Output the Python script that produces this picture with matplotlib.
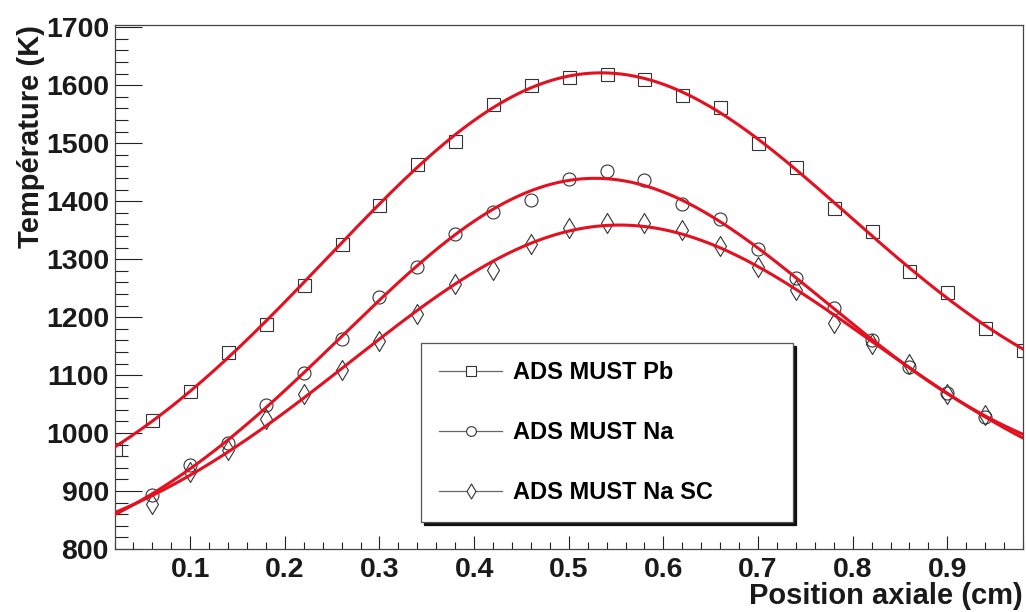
import numpy as np
import matplotlib
matplotlib.use("Agg")
import matplotlib.pyplot as plt
from matplotlib.lines import Line2D
from matplotlib.path import Path
from matplotlib.ticker import MultipleLocator

# ---------------------------------------------------------------------------
# data

x_pb = [0.02, 0.06, 0.10, 0.14, 0.18, 0.22, 0.26, 0.30, 0.34, 0.38, 0.42, 0.46, 0.50,
        0.54, 0.58, 0.62, 0.66, 0.70, 0.74, 0.78, 0.82, 0.86, 0.90, 0.94, 0.98]
t_pb = [972, 1023, 1072, 1140, 1189, 1256, 1326, 1394, 1464, 1504, 1568, 1601, 1615,
        1620, 1610, 1584, 1562, 1501, 1459, 1388, 1348, 1280, 1244, 1181, 1143]

x_na = [0.06, 0.10, 0.14, 0.18, 0.22, 0.26, 0.30, 0.34, 0.38, 0.42, 0.46, 0.50,
        0.54, 0.58, 0.62, 0.66, 0.70, 0.74, 0.78, 0.82, 0.86, 0.90, 0.94]
t_na = [894, 945, 983, 1048, 1104, 1162, 1235, 1286, 1344, 1381, 1402, 1438,
        1452, 1436, 1395, 1369, 1317, 1267, 1215, 1160, 1114, 1069, 1028]
t_nasc = [878, 933, 971, 1025, 1068, 1108, 1158, 1206, 1258, 1282, 1326, 1354,
          1362, 1362, 1351, 1322, 1286, 1246, 1190, 1154, 1120, 1068, 1031]

labels = ["ADS MUST Pb", "ADS MUST Na", "ADS MUST Na SC"]

X_RANGE = (0.02, 0.98)
Y_RANGE = (800, 1704)

# ---------------------------------------------------------------------------

FONT = "Liberation Sans"
RED = "#e5101f"
MK = "#333333"

# tall narrow open diamond (ROOT style)
DIAMOND = Path([(0, 1), (0.6, 0), (0, -1), (-0.6, 0), (0, 1)],
               [Path.MOVETO, Path.LINETO, Path.LINETO, Path.LINETO, Path.CLOSEPOLY])


def gaus_pol1_fit(x, y):
    """Least-squares fit of gaus + pol1, drawn over the whole axis range."""
    x = np.asarray(x, float)
    y = np.asarray(y, float)
    best = None
    for mu in np.linspace(0.30, 0.80, 101):
        for s in np.linspace(0.10, 0.80, 141):
            M = np.column_stack([np.ones_like(x), x, np.exp(-0.5 * ((x - mu) / s) ** 2)])
            coef, *_ = np.linalg.lstsq(M, y, rcond=None)
            r = np.sum((M @ coef - y) ** 2)
            if best is None or r < best[0]:
                best = (r, mu, s, coef)
    _, mu, s, (c0, c1, a) = best
    xx = np.linspace(X_RANGE[0], X_RANGE[1], 300)
    return xx, c0 + c1 * xx + a * np.exp(-0.5 * ((xx - mu) / s) ** 2)


plt.rcParams["font.family"] = [FONT, "DejaVu Sans"]
plt.rcParams["font.weight"] = "bold"

fig = plt.figure(figsize=(10.26, 6.12), dpi=100)
ax = fig.add_axes([0.1116, 0.1029, 0.8855, 0.8563])

series = [
    (x_pb, t_pb, "s", 13),
    (x_na, t_na, "o", 13),
    (x_na, t_nasc, DIAMOND, 20),
]

handles = []
for (xs, ys, mk, ms), lab in zip(series, labels):
    ax.plot(xs, ys, linestyle="none", marker=mk, markersize=ms * 0.72,
            markerfacecolor="none", markeredgecolor=MK, markeredgewidth=0.8, zorder=2)
    xx, yy = gaus_pol1_fit(xs, ys)
    ax.plot(xx, yy, color=RED, lw=2.2, zorder=3)
    handles.append(Line2D([], [], color="#666666", lw=0.9, marker=mk,
                          markersize=ms * 0.72 * 0.75, markerfacecolor="white",
                          markeredgecolor=MK, markeredgewidth=0.8))

ax.set_xlim(*X_RANGE)
ax.set_ylim(*Y_RANGE)

ax.xaxis.set_major_locator(MultipleLocator(0.1))
ax.xaxis.set_minor_locator(MultipleLocator(0.02))
ax.yaxis.set_major_locator(MultipleLocator(100))
ax.yaxis.set_minor_locator(MultipleLocator(20))
ax.xaxis.set_major_formatter(plt.FuncFormatter(lambda v, p: f"{v:.1f}"))

ax.tick_params(axis="both", which="both", direction="in", top=False, right=False,
               colors="#222222", width=0.8, labelsize=20.5, labelcolor="#1a1a1a")
ax.tick_params(axis="y", which="major", length=19.5, pad=4)
ax.tick_params(axis="y", which="minor", length=9.5)
ax.tick_params(axis="x", which="major", length=9.5, pad=6)
ax.tick_params(axis="x", which="minor", length=5)

for sp in ax.spines.values():
    sp.set_color("#444444")
    sp.set_linewidth(0.9)

ax.set_xlabel("Position axiale (cm)", fontsize=21, fontweight="bold", loc="right",
              color="#1a1a1a")
ax.set_ylabel("Température (K)", fontsize=21, fontweight="bold", loc="top",
              color="#1a1a1a")
ax.xaxis.set_label_coords(1.0, -0.063)
ax.yaxis.set_label_coords(-0.077, 1.0)

leg = ax.legend(handles, labels, loc="upper left",
                bbox_to_anchor=(0.3374, 0.061, 0.4094, 0.332), mode="expand",
                prop={"family": FONT, "weight": "bold", "size": 17},
                handlelength=2.7, handletextpad=0.45, borderpad=0.75,
                labelspacing=1.58, borderaxespad=0, fancybox=False,
                shadow={"color": "#111111", "alpha": 1.0}, framealpha=1)
leg.get_frame().set_edgecolor("#555555")
leg.get_frame().set_linewidth(0.9)

fig.savefig("out.png", dpi=100)
